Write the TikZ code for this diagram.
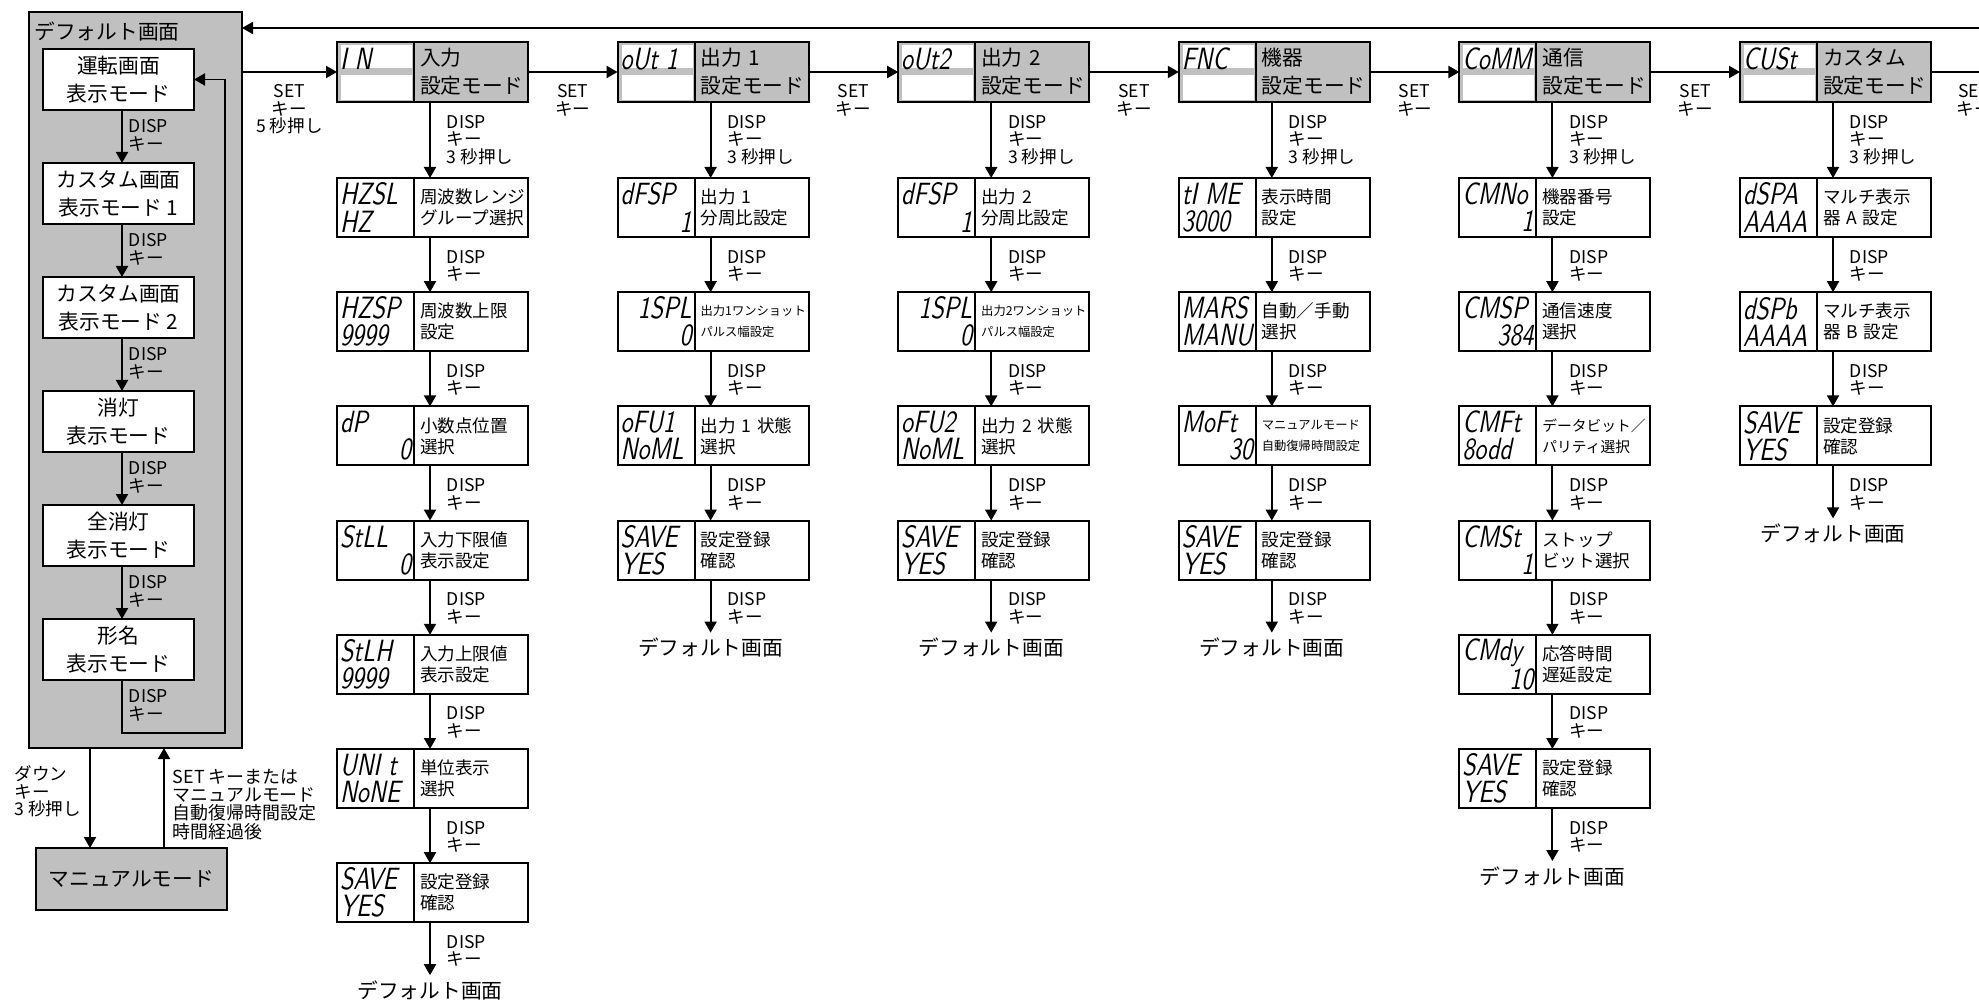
\documentclass[tikz,border=0pt]{standalone}
\usepackage{fontspec}
\setmainfont{Noto Sans CJK JP}
\newfontfamily\segfont{lmsans10-regular.otf}[FakeSlant=0.2,FakeStretch=0.78]
\usepackage{tikz}
\usetikzlibrary{positioning,arrows.meta}
\definecolor{boxgray}{RGB}{192,192,192}
\tikzstyle{arr} = [line width=1.1pt, -{Triangle[length=0.22cm,width=0.24cm]}]
\tikzstyle{segcell} = [draw, line width=1.1pt, outer sep=0pt, inner xsep=0.06cm, inner ysep=0pt,
    minimum width=1.54cm, minimum height=1.18cm, align=left, fill=white,
    font=\segfont\fontsize{17.5}{15.4}\selectfont]
\tikzstyle{modecell} = [segcell, fill=boxgray, minimum height=1.2cm, anchor=north west, path picture={
    \fill[white] ([shift={(0.08,-0.06)}]path picture bounding box.north west) rectangle ([shift={(-0.04,-0.52)}]path picture bounding box.north east);
    \fill[white] ([shift={(0.08,-0.66)}]path picture bounding box.north west) rectangle ([shift={(-0.04,-1.16)}]path picture bounding box.north east);
}]
\tikzstyle{textcell} = [draw, line width=1.1pt, outer sep=0pt, inner xsep=0.12cm, inner ysep=0pt,
    text width=2.04cm, minimum height=1.18cm, align=left, fill=white, font=\fontsize{10}{12}\selectfont]
\tikzstyle{modetext} = [textcell, fill=boxgray, minimum height=1.2cm, font=\fontsize{11.8}{16}\selectfont]
\tikzstyle{keylbl} = [anchor=north west, xshift=0.32cm, yshift=-0.24cm, inner sep=0pt, align=left, font=\fontsize{10}{10}\selectfont]
\tikzstyle{panellbl} = [anchor=north west, xshift=0.12cm, yshift=-0.17cm, inner sep=0pt, align=left, font=\fontsize{10}{10}\selectfont]
\tikzstyle{setlbl} = [below, yshift=-0.23cm, inner sep=0pt, align=center, font=\fontsize{10}{10}\selectfont]
\tikzstyle{endlbl} = [anchor=north, inner sep=0.1cm, font=\fontsize{11.8}{14}\selectfont]
\tikzstyle{panel} = [draw, line width=1.1pt, fill=boxgray, outer sep=0pt, inner sep=0pt,
    minimum width=4.26cm, minimum height=14.72cm, anchor=north west]
\tikzstyle{panelbox} = [draw, line width=1.1pt, fill=white, outer sep=0pt, inner sep=0pt,
    minimum width=3.02cm, minimum height=1.22cm, align=center, font=\fontsize{11.8}{16}\selectfont]
\tikzstyle{manbox} = [panelbox, fill=boxgray, minimum width=3.82cm, minimum height=1.24cm, anchor=north west]

\newcommand{\segtext}[2]{\makebox[1.42cm][l]{#1}\\\makebox[1.42cm][l]{#2}}
\newcommand{\modeblock}[4]{
    \node(#1s) [modecell] at (#2,-0.84) {\segtext{#3}{}};
    \node(#1) [modetext, right=0pt of #1s] {#4};
}
\newcommand{\parblock}[8][]{
    \node(#2s) [segcell, below=#4 of #3s] {\segtext{#6}{#7}};
    \node(#2) [textcell, #1, right=0pt of #2s] {#8};
    \draw[arr] ([xshift=0.32cm]#3.south west) -- node[pos=0, keylbl] {#5} ([xshift=0.32cm]#2.north west);
}
\newcommand{\finblock}[2]{
    \node(#2) [endlbl] at ([xshift=0.32cm, yshift=-1.06cm]#1.south west) {デフォルト画面};
    \draw[arr] ([xshift=0.32cm]#1.south west) -- node[pos=0, keylbl] {DISP\\キー} (#2);
}
\newcommand{\panelstep}[2]{
    \draw[arr] ([xshift=0.07cm]#1.south) -- node[pos=0, panellbl] {DISP\\キー} ([xshift=0.07cm]#2.north);
}

\begin{document}
\begin{tikzpicture}
    \useasboundingbox (0,0) rectangle (39.58,-20.04);

    % default screen
    \node(dflt) [panel] at (0.58,-0.24) {};
    \node(dflttitle) [anchor=west, inner sep=0pt, font=\fontsize{11.8}{14}\selectfont] at ([shift={(0.1cm,-0.4cm)}]dflt.north west) {デフォルト画面};
    \node(pm1) [panelbox, anchor=north west] at (0.86,-0.98) {運転画面\\表示モード};
    \node(pm2) [panelbox, below=1.06cm of pm1] {カスタム画面\\表示モード 1};
    \node(pm3) [panelbox, below=1.06cm of pm2] {カスタム画面\\表示モード 2};
    \node(pm4) [panelbox, below=1.06cm of pm3] {消灯\\表示モード};
    \node(pm5) [panelbox, below=1.06cm of pm4] {全消灯\\表示モード};
    \node(pm6) [panelbox, below=1.06cm of pm5] {形名\\表示モード};
    \panelstep{pm1}{pm2};
    \panelstep{pm2}{pm3};
    \panelstep{pm3}{pm4};
    \panelstep{pm4}{pm5};
    \panelstep{pm5}{pm6};
    \coordinate(loopc) at (4.5,-14.66);
    \draw[arr] ([xshift=0.07cm]pm6.south) |- node[pos=0, panellbl] {DISP\\キー} (loopc) |- (pm1.east);

    % manual mode
    \node(manual) [manbox] at (0.72,-16.96) {マニュアルモード};
    \coordinate(mandn) at ([xshift=1.08cm]manual.north west);
    \coordinate(manup) at ([xshift=2.56cm]manual.north west);
    \draw[arr] (mandn |- dflt.south) -- node[pos=0, anchor=north east, xshift=-0.16cm, yshift=-0.34cm, inner sep=0pt, align=left, font=\fontsize{10}{10}\selectfont] {ダウン\\キー\\3 秒押し} (mandn);
    \draw[arr] (manup) -- node[pos=1, anchor=north west, xshift=0.16cm, yshift=-0.4cm, inner sep=0pt, align=left, font=\fontsize{10.2}{10.4}\selectfont] {SET キーまたは\\マニュアルモード\\自動復帰時間設定\\時間経過後} (manup |- dflt.south);

    % setting modes
    \modeblock{in}{6.74}{I N}{入力\\設定モード}
    \modeblock{oa}{12.352}{oUt 1}{出力 1\\設定モード}
    \modeblock{ob}{17.964}{oUt2}{出力 2\\設定モード}
    \modeblock{fn}{23.576}{FNC}{機器\\設定モード}
    \modeblock{cm}{29.188}{CoMM}{通信\\設定モード}
    \modeblock{cu}{34.8}{CUSt}{カスタム\\設定モード}

    \coordinate(retin) at (39.8,-0.56);
    \draw[arr] (retin) -- (retin -| dflt.east);
    \draw[arr] (ins.west -| dflt.east) -- node[setlbl] {SET\\キー\\5 秒押し} (ins.west);
    \draw[arr] (in.east) -- node[setlbl] {SET\\キー} (oas.west);
    \draw[arr] (oa.east) -- node[setlbl] {SET\\キー} (obs.west);
    \draw[arr] (ob.east) -- node[setlbl] {SET\\キー} (fns.west);
    \draw[arr] (fn.east) -- node[setlbl] {SET\\キー} (cms.west);
    \draw[arr] (cm.east) -- node[setlbl] {SET\\キー} (cus.west);
    \coordinate(offright) at ([xshift=1.72cm]cu.east);
    \draw[arr] (cu.east) -- node[setlbl] {SET\\キー} (offright);

    % input
    \parblock{in1}{in}{1.52cm}{DISP\\キー\\3 秒押し}{HZSL}{HZ}{周波数レンジ\\グループ選択}
    \parblock{in2}{in1}{1.104cm}{DISP\\キー}{HZSP}{9999}{周波数上限\\設定}
    \parblock{in3}{in2}{1.104cm}{DISP\\キー}{dP}{\hfill 0}{小数点位置\\選択}
    \parblock{in4}{in3}{1.104cm}{DISP\\キー}{StLL}{\hfill 0}{入力下限値\\表示設定}
    \parblock{in5}{in4}{1.104cm}{DISP\\キー}{StLH}{9999}{入力上限値\\表示設定}
    \parblock{in6}{in5}{1.104cm}{DISP\\キー}{UNI t}{NoNE}{単位表示\\選択}
    \parblock{in7}{in6}{1.104cm}{DISP\\キー}{SAVE}{YES}{設定登録\\確認}
    \finblock{in7}{inend}

    % output 1
    \parblock{oa1}{oa}{1.52cm}{DISP\\キー\\3 秒押し}{dFSP}{\hfill 1}{出力 1\\分周比設定}
    \parblock[font=\fontsize{7}{12}\selectfont]{oa2}{oa1}{1.104cm}{DISP\\キー}{\hfill 1SPL}{\hfill 0}{出力1ワンショット\\パルス幅設定}
    \parblock{oa3}{oa2}{1.104cm}{DISP\\キー}{oFU1}{NoML}{出力 1 状態\\選択}
    \parblock{oa4}{oa3}{1.104cm}{DISP\\キー}{SAVE}{YES}{設定登録\\確認}
    \finblock{oa4}{oaend}

    % output 2
    \parblock{ob1}{ob}{1.52cm}{DISP\\キー\\3 秒押し}{dFSP}{\hfill 1}{出力 2\\分周比設定}
    \parblock[font=\fontsize{7}{12}\selectfont]{ob2}{ob1}{1.104cm}{DISP\\キー}{\hfill 1SPL}{\hfill 0}{出力2ワンショット\\パルス幅設定}
    \parblock{ob3}{ob2}{1.104cm}{DISP\\キー}{oFU2}{NoML}{出力 2 状態\\選択}
    \parblock{ob4}{ob3}{1.104cm}{DISP\\キー}{SAVE}{YES}{設定登録\\確認}
    \finblock{ob4}{obend}

    % function
    \parblock{fn1}{fn}{1.52cm}{DISP\\キー\\3 秒押し}{tI ME}{3000}{表示時間\\設定}
    \parblock{fn2}{fn1}{1.104cm}{DISP\\キー}{MARS}{MANU}{自動／手動\\選択}
    \parblock[font=\fontsize{7}{12}\selectfont]{fn3}{fn2}{1.104cm}{DISP\\キー}{MoFt}{\hfill 30}{マニュアルモード\\自動復帰時間設定}
    \parblock{fn4}{fn3}{1.104cm}{DISP\\キー}{SAVE}{YES}{設定登録\\確認}
    \finblock{fn4}{fnend}

    % communication
    \parblock{cm1}{cm}{1.52cm}{DISP\\キー\\3 秒押し}{CMNo}{\hfill 1}{機器番号\\設定}
    \parblock{cm2}{cm1}{1.104cm}{DISP\\キー}{CMSP}{\hfill 384}{通信速度\\選択}
    \parblock[font=\fontsize{8.4}{12}\selectfont]{cm3}{cm2}{1.104cm}{DISP\\キー}{CMFt}{8odd}{データビット／\\パリティ選択}
    \parblock{cm4}{cm3}{1.104cm}{DISP\\キー}{CMSt}{\hfill 1}{ストップ\\ビット選択}
    \parblock{cm5}{cm4}{1.104cm}{DISP\\キー}{CMdy}{\hfill 10}{応答時間\\遅延設定}
    \parblock{cm6}{cm5}{1.104cm}{DISP\\キー}{SAVE}{YES}{設定登録\\確認}
    \finblock{cm6}{cmend}

    % custom
    \parblock{cu1}{cu}{1.52cm}{DISP\\キー\\3 秒押し}{dSPA}{AAAA}{マルチ表示\\器 A 設定}
    \parblock{cu2}{cu1}{1.104cm}{DISP\\キー}{dSPb}{AAAA}{マルチ表示\\器 B 設定}
    \parblock{cu3}{cu2}{1.104cm}{DISP\\キー}{SAVE}{YES}{設定登録\\確認}
    \finblock{cu3}{cuend}
\end{tikzpicture}
\end{document}
